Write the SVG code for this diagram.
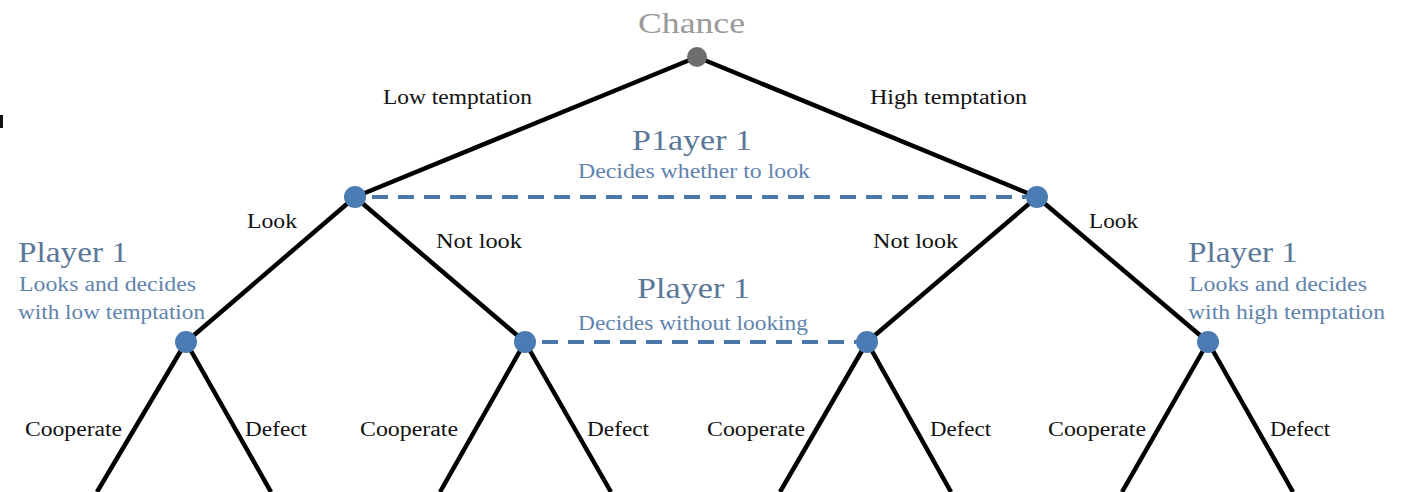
<svg xmlns="http://www.w3.org/2000/svg" width="1401" height="492" viewBox="0 0 1401 492">
<style>
.e{stroke:#000;stroke-width:4.5;fill:none;stroke-linecap:butt}
.d{stroke:#4a78aa;stroke-width:4;stroke-dasharray:16 10;fill:none}
.n{fill:#4a7bb2}
.c{fill:#6e6e6e}
text{font-family:"Liberation Serif","Times New Roman",serif}
.l{font-size:20px;fill:#111}
.t{font-size:30px;fill:#5b7899}
.s{font-size:20px;fill:#5f84ad}
.g{font-size:30px;fill:#9a9a9a}
</style>
<rect x="0" y="115" width="3" height="13" fill="#111"/>
<g id="connectors">
<line class="e" x1="697" y1="57" x2="355" y2="197"/>
<line class="e" x1="697" y1="57" x2="1037" y2="197"/>
<line class="e" x1="355" y1="197" x2="186" y2="342"/>
<line class="e" x1="355" y1="197" x2="525" y2="342"/>
<line class="e" x1="1037" y1="197" x2="867" y2="342"/>
<line class="e" x1="1037" y1="197" x2="1208" y2="342"/>
<line class="e" x1="186" y1="342" x2="97" y2="492"/>
<line class="e" x1="186" y1="342" x2="271" y2="492"/>
<line class="e" x1="525" y1="342" x2="440" y2="492"/>
<line class="e" x1="525" y1="342" x2="611" y2="492"/>
<line class="e" x1="867" y1="342" x2="780" y2="492"/>
<line class="e" x1="867" y1="342" x2="951" y2="492"/>
<line class="e" x1="1208" y1="342" x2="1122" y2="492"/>
<line class="e" x1="1208" y1="342" x2="1293" y2="492"/>
<line class="d" x1="372" y1="197" x2="1026" y2="197"/>
<line class="d" x1="542" y1="342" x2="856" y2="342"/>
</g>
<g id="edge-labels">
<text class="l" x="383" y="104" textLength="149" lengthAdjust="spacingAndGlyphs">Low temptation</text>
<text class="l" x="870" y="104" textLength="157" lengthAdjust="spacingAndGlyphs">High temptation</text>
<text class="l" x="247" y="228" textLength="50" lengthAdjust="spacingAndGlyphs">Look</text>
<text class="l" x="436" y="248" textLength="86" lengthAdjust="spacingAndGlyphs">Not look</text>
<text class="l" x="873" y="248" textLength="85" lengthAdjust="spacingAndGlyphs">Not look</text>
<text class="l" x="1089" y="228" textLength="49" lengthAdjust="spacingAndGlyphs">Look</text>
<text class="l" x="25" y="436" textLength="97" lengthAdjust="spacingAndGlyphs">Cooperate</text>
<text class="l" x="245" y="436" textLength="62" lengthAdjust="spacingAndGlyphs">Defect</text>
<text class="l" x="360" y="436" textLength="98" lengthAdjust="spacingAndGlyphs">Cooperate</text>
<text class="l" x="587" y="436" textLength="62" lengthAdjust="spacingAndGlyphs">Defect</text>
<text class="l" x="707" y="436" textLength="98" lengthAdjust="spacingAndGlyphs">Cooperate</text>
<text class="l" x="930" y="436" textLength="61" lengthAdjust="spacingAndGlyphs">Defect</text>
<text class="l" x="1048" y="436" textLength="98" lengthAdjust="spacingAndGlyphs">Cooperate</text>
<text class="l" x="1270" y="436" textLength="60" lengthAdjust="spacingAndGlyphs">Defect</text>
</g>
<g id="chance">
<circle class="c" cx="697" cy="57" r="10"/>
<text class="g" x="638" y="33" textLength="107" lengthAdjust="spacingAndGlyphs">Chance</text>
</g>
<g id="p1-left">
<circle class="n" cx="355" cy="197" r="11"/>
</g>
<g id="p1-right">
<circle class="n" cx="1037" cy="197" r="11"/>
</g>
<g id="p1-info-top">
<text class="t" x="632" y="150" textLength="120" lengthAdjust="spacingAndGlyphs">P1ayer 1</text>
<text class="s" x="578" y="178" textLength="232" lengthAdjust="spacingAndGlyphs">Decides whether to look</text>
</g>
<g id="p1-look-low">
<circle class="n" cx="186" cy="342" r="11"/>
<text class="t" x="18" y="262" textLength="110" lengthAdjust="spacingAndGlyphs">Player 1</text>
<text class="s" x="19" y="291" textLength="177" lengthAdjust="spacingAndGlyphs">Looks and decides</text>
<text class="s" x="18" y="319" textLength="187" lengthAdjust="spacingAndGlyphs">with low temptation</text>
</g>
<g id="p1-nolook-low">
<circle class="n" cx="525" cy="342" r="11"/>
</g>
<g id="p1-nolook-high">
<circle class="n" cx="867" cy="342" r="11"/>
</g>
<g id="p1-info-mid">
<text class="t" x="637" y="298" textLength="113" lengthAdjust="spacingAndGlyphs">Player 1</text>
<text class="s" x="578" y="330" textLength="230" lengthAdjust="spacingAndGlyphs">Decides without looking</text>
</g>
<g id="p1-look-high">
<circle class="n" cx="1208" cy="342" r="11"/>
<text class="t" x="1188" y="262" textLength="110" lengthAdjust="spacingAndGlyphs">Player 1</text>
<text class="s" x="1189" y="291" textLength="178" lengthAdjust="spacingAndGlyphs">Looks and decides</text>
<text class="s" x="1188" y="319" textLength="197" lengthAdjust="spacingAndGlyphs">with high temptation</text>
</g>
</svg>
